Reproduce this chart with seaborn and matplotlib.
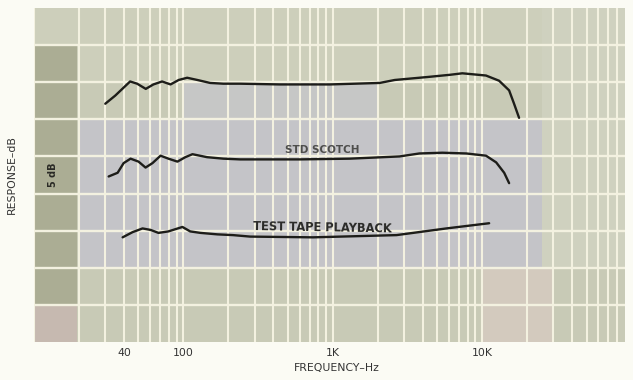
import numpy as np
import pandas as pd
import matplotlib
matplotlib.use("Agg")
import matplotlib.pyplot as plt
import seaborn as sns

# top curve (no label)
top_hz = [30, 35, 39, 44, 49, 56, 63, 72, 82, 93, 106, 124, 151, 185, 240,
          443, 955, 2057, 2600, 4300, 6100, 7360, 10600, 12970, 15140, 16340, 17650]
top_db = [32.1, 33.2, 34.1, 35.1, 34.8, 34.1, 34.7, 35.1, 34.7, 35.3, 35.6, 35.3, 34.9, 34.8, 34.8,
          34.7, 34.7, 34.9, 35.3, 35.7, 36.0, 36.2, 35.9, 35.2, 33.9, 32.1, 30.2]

# STD SCOTCH
std_hz = [31.6, 36.3, 39.8, 44.3, 50.1, 55.8, 62.1, 70.3, 79.4, 91.2, 103, 115, 144, 185, 240,
          603, 1300, 2799, 3800, 5410, 7820, 10600, 12400, 14030, 15140]
std_db = [22.3, 22.8, 24.1, 24.7, 24.3, 23.5, 24.1, 25.1, 24.7, 24.3, 24.9, 25.3, 24.9, 24.7, 24.6,
          24.6, 24.7, 25.0, 25.4, 25.5, 25.4, 25.1, 24.2, 22.8, 21.4]

# TEST TAPE PLAYBACK
ttp_hz = [39.2, 45.7, 53.3, 60.3, 68.1, 79.4, 98.5, 111, 130, 169, 215, 280, 736, 2670, 5750, 11130]
ttp_db = [14.1, 14.8, 15.3, 15.1, 14.7, 14.9, 15.5, 14.9, 14.7, 14.5, 14.4, 14.2, 14.1, 14.4, 15.3, 16.0]

tick_hz = [40, 100, 1000, 10000]
tick_labels = ["40", "100", "1K", "10K"]

sns.set_theme(style="white")
plt.rcParams['font.family'] = ['DejaVu Sans']

fig = plt.figure(figsize=(6.33, 3.8), dpi=100, facecolor="#fbfbf4")
ax = fig.add_axes([0.0537, 0.1, 0.9333, 0.879])
ax.set_xscale("log")
ax.set_xlim(10, 90000)
ax.set_ylim(0, 45)
ax.set_facecolor("#c8cab6")

# printed paper tints
ax.axhspan(35, 45, color="#cdcfbb", lw=0, zorder=0)
ax.fill_between([10, 19.5], 0, 40, color="#abad94", lw=0, zorder=0)
ax.fill_between([10, 19.5], 0, 5, color="#c6b9b0", lw=0, zorder=0)
ax.fill_between([20, 26000], 10, 30, color="#c4c4c8", lw=0, zorder=0)
ax.fill_between([100, 2000], 30, 35, color="#c6c7c6", lw=0, zorder=0)
ax.fill_between([10000, 30000], 0, 10, color="#d3cabe", lw=0, zorder=0)
ax.fill_between([25000, 90000], 10, 45, color="#cfd1bf", lw=0, zorder=0)

# grid
grid_c = "#f3f1e0"
for dec in [10, 100, 1000, 10000]:
    for m in range(1, 10):
        if dec * m < 90000:
            ax.axvline(dec * m, color=grid_c, lw=1.5, zorder=1)
for d in range(5, 45, 5):
    ax.axhline(d, color=grid_c, lw=1.7, zorder=1)

line_c = "#1d1d19"
for hz, db in [(top_hz, top_db), (std_hz, std_db), (ttp_hz, ttp_db)]:
    df = pd.DataFrame({"hz": hz, "db": db})
    sns.lineplot(data=df, x="hz", y="db", ax=ax, color=line_c, lw=1.7,
                 sort=False, estimator=None, zorder=3)

ax.text(845, 25.9, "STD SCOTCH", fontsize=7.5, fontweight="bold", color="#4e4e4c",
        ha="center", va="center", zorder=4)
ax.text(845, 15.4, "TEST TAPE PLAYBACK", fontsize=8.3, fontweight="bold", color="#2a2a28",
        ha="center", va="center", rotation=-1, zorder=4)
ax.text(13.4, 22.5, "5 dB", fontsize=7, fontweight="bold", color="#2a2a26",
        ha="center", va="center", rotation=90, zorder=4)

for s in ax.spines.values():
    s.set_visible(False)
ax.set_xticks(tick_hz)
ax.set_xticklabels(tick_labels)
ax.xaxis.set_minor_locator(matplotlib.ticker.NullLocator())
ax.tick_params(axis="x", length=0, labelsize=7.8, labelcolor="#333333", pad=4)
ax.set_yticks([])
ax.set_xlabel("")
ax.set_ylabel("")

fig.text(0.532, 0.032, "FREQUENCY\u2013Hz", fontsize=7.8, color="#333333", ha="center", va="center")
fig.text(0.019, 0.54, "RESPONSE\u2013dB", fontsize=7.8, color="#333333", ha="center", va="center",
         rotation=90)

fig.savefig("out.png", dpi=100, facecolor=fig.get_facecolor())
